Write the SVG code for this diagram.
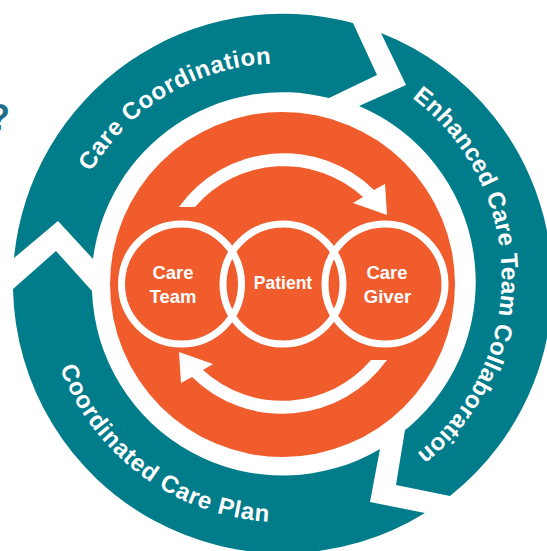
<svg xmlns="http://www.w3.org/2000/svg" width="547" height="551" viewBox="0 0 547 551">
<style>
.seg{fill:#017c8b}
.lab{font-family:"Liberation Sans",Arial,sans-serif;font-weight:700;fill:#fff;font-size:24px;letter-spacing:.6px}
.in{font-family:"Liberation Sans",Arial,sans-serif;font-weight:700;fill:#fff;font-size:18.500px;text-anchor:middle}
.ring{fill:none;stroke:#fff;stroke-width:7}
</style>
<defs>
<path id="p1" d="M91 172A220 220 0 0 1 320 67"/>
<path id="p2" d="M412 98A225 225 0 0 1 205 491"/>
<path id="p3" d="M60 368A237.700 237.700 0 0 0 320 519"/>
<path id="arrow" fill="#fff" d="M179 207A129 129 0 0 1 374 190L385 184L387 215L353 203L363 197A117 117 0 0 0 195 207Z"/>
</defs>
<rect width="547" height="551" fill="#fff"/>
<text x="-12" y="130" font-family="Liberation Sans,Arial,sans-serif" font-weight="700" font-size="36" fill="#1f6f8b">?</text>
<g id="care-coordination">
<path class="seg" d="M14 258L58 221L93 259A191 191 0 0 1 329 98L377 75L353 23A270 270 0 0 0 14 258Z"/>
<text class="lab"><textPath href="#p1">Care Coordination</textPath></text>
</g>
<g id="enhanced-care-team-collaboration">
<path class="seg" d="M381 33A270 270 0 0 1 450 496L396 485L405 430L409 427A191 191 0 0 0 359 106L406 85Z"/>
<text class="lab" style="letter-spacing:.2px"><textPath href="#p2">Enhanced Care Team Collaboration</textPath></text>
</g>
<g id="coordinated-care-plan">
<path class="seg" d="M13 289L56 251L92 291A191 191 0 0 0 380 449L370 502L425 513A270 270 0 0 1 13 289Z"/>
<text class="lab" style="letter-spacing:.75px"><textPath href="#p3">Coordinated Care Plan</textPath></text>
</g>
<g id="core"><circle cx="282.500" cy="284.500" r="172.500" fill="#f05c2c"/></g>
<g id="connectors">
<use href="#arrow"/>
<use href="#arrow" transform="rotate(180 283 283.500)"/>
</g>
<g id="care-team"><circle class="ring" cx="181.500" cy="284" r="60"/><text class="in" x="173" y="279">Care</text><text class="in" x="173" y="303">Team</text></g>
<g id="patient"><circle class="ring" cx="283" cy="284" r="60"/><text class="in" x="283" y="289" style="font-size:17.500px">Patient</text></g>
<g id="care-giver"><circle class="ring" cx="385" cy="284" r="60"/><text class="in" x="387" y="279">Care</text><text class="in" x="387.500" y="303">Giver</text></g>
</svg>
